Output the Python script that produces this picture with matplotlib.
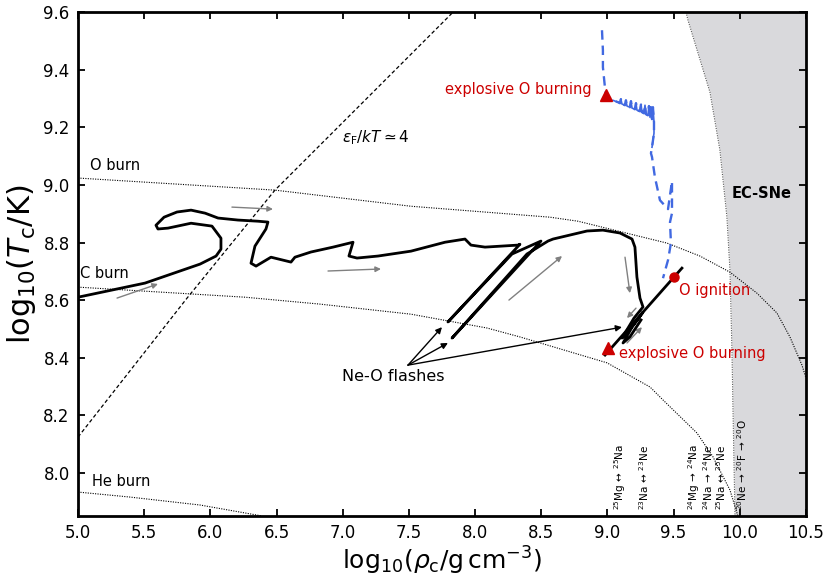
import matplotlib
matplotlib.use("Agg")
import matplotlib.pyplot as plt
import numpy as np

# ---------------- data ----------------
# main evolutionary track (black)
track_rho = [5.000, 5.506, 5.922, 6.043, 6.080, 6.080, 6.012, 5.854, 5.680, 5.604, 5.589, 5.650,
             5.748, 5.854, 5.960, 6.058, 6.209, 6.360, 6.435, 6.420, 6.337, 6.307, 6.345, 6.458,
             6.609, 6.639, 6.760, 6.927, 7.078, 7.047, 7.108, 7.267, 7.516, 7.773, 7.924, 7.969,
             8.075, 8.324, 8.339, 7.795, 8.279, 8.498, 7.826, 8.392, 8.551, 8.589, 8.846, 8.966,
             9.095, 9.186, 9.208, 9.223, 9.246, 9.269, 9.201, 9.110, 9.155, 9.269, 9.186, 9.118,
             9.170, 9.254]
track_T = [8.610, 8.659, 8.725, 8.753, 8.777, 8.815, 8.857, 8.867, 8.850, 8.847, 8.860, 8.888,
           8.906, 8.9125, 8.902, 8.885, 8.878, 8.874, 8.871, 8.847, 8.7875, 8.728, 8.718, 8.749,
           8.732, 8.749, 8.767, 8.784, 8.801, 8.753, 8.746, 8.753, 8.770, 8.801, 8.812, 8.791,
           8.784, 8.791, 8.794, 8.524, 8.760, 8.805, 8.468, 8.760, 8.805, 8.812, 8.840, 8.843,
           8.833, 8.812, 8.784, 8.680, 8.607, 8.576, 8.5375, 8.468, 8.489, 8.558, 8.506, 8.451,
           8.472, 8.531]

# final straight segment (O ignition -> explosive O burning)
final_rho = [8.982, 9.563]
final_T = [8.409, 8.711]

# blue (dashed) track
blue_rho = [8.959, 8.966, 8.966, 8.982, 8.989, 9.042, 9.080, 9.095, 9.102, 9.110, 9.133, 9.140,
            9.148, 9.170, 9.178, 9.186, 9.208, 9.216, 9.223, 9.246, 9.254, 9.261, 9.276, 9.284,
            9.291, 9.306, 9.314, 9.322, 9.329, 9.337, 9.344, 9.352, 9.352, 9.337, 9.329, 9.337,
            9.359, 9.397, 9.458, 9.488, 9.488, 9.473, 9.480, 9.458, 9.420]
blue_T = [9.5375, 9.468, 9.409, 9.336, 9.312, 9.294, 9.2875, 9.284, 9.298, 9.281, 9.277, 9.294,
          9.274, 9.270, 9.291, 9.267, 9.263, 9.284, 9.260, 9.256, 9.281, 9.253, 9.249, 9.277,
          9.246, 9.242, 9.274, 9.235, 9.270, 9.2285, 9.270, 9.218, 9.180, 9.131, 9.110, 9.097,
          9.027, 8.947, 8.916, 9.013, 8.902, 8.871, 8.798, 8.739, 8.676]
blue_solid = (5, 33)

# burning lines
oburn_rho = [5.0, 6.488, 7.516, 8.566, 8.778, 9.450, 9.699, 9.926, 10.130, 10.281, 10.379, 10.470, 10.5]
oburn_T = [9.024, 8.982, 8.926, 8.888, 8.874, 8.798, 8.753, 8.697, 8.624, 8.555, 8.472, 8.374, 8.33]
cburn_rho = [5.0, 6.262, 6.828, 7.516, 8.090, 8.339, 8.997, 9.322, 9.420, 9.677, 9.798, 9.926, 9.986]
cburn_T = [8.645, 8.610, 8.586, 8.551, 8.503, 8.472, 8.382, 8.298, 8.253, 8.138, 8.055, 7.940, 7.85]
heburn_rho = [5.0, 5.385, 5.922, 6.39]
heburn_T = [7.933, 7.916, 7.888, 7.85]

# degeneracy line eF/kT ~ 4
fermi_rho = [5.0, 5.824, 6.488, 7.161, 7.833]
fermi_T = [8.124, 8.607, 8.982, 9.291, 9.6]

# EC-SNe region boundary
ec_rho = [9.594, 9.609, 9.775, 9.850, 9.903, 9.926, 9.941, 9.949, 9.964]
ec_T = [9.6, 9.572, 9.322, 9.121, 8.888, 8.704, 8.426, 8.218, 7.85]

# markers
tri_rho = [8.989, 9.004]
tri_T = [9.312, 8.433]
ign_rho = [9.503]
ign_T = [8.680]

# gray direction arrows: (start_rho, start_T, end_rho, end_T)
gray_arrows = [(5.295, 8.607, 5.604, 8.656),
               (6.163, 8.923, 6.473, 8.916),
               (6.889, 8.701, 7.289, 8.708),
               (8.256, 8.600, 8.657, 8.753),
               (9.133, 8.749, 9.170, 8.624),
               (9.216, 8.572, 9.148, 8.5375),
               (9.148, 8.451, 9.261, 8.506)]

# Ne-O flash annotation
flash_origin = (7.493, 8.374)
flash_targets = [(7.750, 8.506), (7.795, 8.451), (9.110, 8.506)]

# weak-rate labels
rate_labels = [r"$^{25}$Mg$\,\leftrightarrow\,^{25}$Na",
               r"$^{23}$Na$\,\leftrightarrow\,^{23}$Ne",
               r"$^{24}$Mg$\,\rightarrow\,^{24}$Na",
               r"$^{24}$Na$\,\rightarrow\,^{24}$Ne",
               r"$^{25}$Na$\,\leftrightarrow\,^{25}$Ne",
               r"$^{20}$Ne$\,\rightarrow\,^{20}$F$\,\rightarrow\,^{20}$O"]
rate_rho = [9.095, 9.276, 9.652, 9.760, 9.858, 10.014]

xticks = [5.0, 5.5, 6.0, 6.5, 7.0, 7.5, 8.0, 8.5, 9.0, 9.5, 10.0, 10.5]
yticks = [8.0, 8.2, 8.4, 8.6, 8.8, 9.0, 9.2, 9.4, 9.6]

# ---------------- plot ----------------
red = '#cc0000'
blue = '#4169e1'

fig = plt.figure(figsize=(8.30, 5.83), dpi=100)
ax = fig.add_axes([0.094, 0.115, 0.877, 0.864])

ax.fill_betweenx(ec_T, ec_rho, 10.5, color='#d9d9dc', zorder=0, lw=0)
ax.plot(ec_rho, ec_T, color='0.35', lw=0.8, ls=(0, (1, 1.2)), zorder=1)

for r, t in [(oburn_rho, oburn_T), (cburn_rho, cburn_T), (heburn_rho, heburn_T)]:
    ax.plot(r, t, color='black', lw=0.8, ls=(0, (1, 1.2)), zorder=2)

ax.plot(fermi_rho, fermi_T, color='black', lw=0.9, ls=(0, (3, 2)), zorder=2)

ax.plot(track_rho, track_T, color='black', lw=2.0, solid_joinstyle='round', zorder=4)
ax.plot(final_rho, final_T, color='black', lw=2.0, zorder=4)

ax.plot(blue_rho, blue_T, color=blue, lw=1.7, ls=(0, (4, 2.5)), zorder=4)
s0, s1 = blue_solid
ax.plot(blue_rho[s0:s1 + 1], blue_T[s0:s1 + 1], color=blue, lw=1.2, zorder=4)

ax.plot(tri_rho, tri_T, ls='none', marker='^', ms=8, color=red, zorder=5)
ax.plot(ign_rho, ign_T, ls='none', marker='o', ms=6.5, color=red, zorder=5)

for x0, y0, x1, y1 in gray_arrows:
    ax.annotate('', xy=(x1, y1), xytext=(x0, y0),
                arrowprops=dict(arrowstyle='-|>', color='0.5', lw=1.0,
                                mutation_scale=8, shrinkA=0, shrinkB=0), zorder=3)

for tx, ty in flash_targets:
    ax.annotate('', xy=(tx, ty), xytext=flash_origin,
                arrowprops=dict(arrowstyle='-|>', color='black', lw=1.0,
                                mutation_scale=9, shrinkA=0, shrinkB=0), zorder=5)
ax.text(7.38, 8.336, 'Ne-O flashes', fontsize=11.5, ha='center', va='center')

ax.text(5.09, 9.069, 'O burn', fontsize=10.5, ha='left', va='center')
ax.text(5.015, 8.694, 'C burn', fontsize=10.5, ha='left', va='center')
ax.text(5.106, 7.968, 'He burn', fontsize=10.5, ha='left', va='center')
ax.text(6.995, 9.166, r'$\epsilon_{\rm F}/kT \simeq 4$', fontsize=11, ha='left', va='center')
ax.text(7.773, 9.333, 'explosive O burning', fontsize=10.5, color=red, ha='left', va='center')
ax.text(9.087, 8.416, 'explosive O burning', fontsize=10.5, color=red, ha='left', va='center')
ax.text(9.541, 8.635, 'O ignition', fontsize=10.5, color=red, ha='left', va='center')
ax.text(10.168, 8.972, 'EC-SNe', fontsize=10.5, fontweight='bold', ha='center', va='center')

for lab, r in zip(rate_labels, rate_rho):
    ax.text(r, 7.871, lab, fontsize=7.5, rotation=90, ha='center', va='bottom')

ax.set_xlim(5.0, 10.5)
ax.set_ylim(7.85, 9.6)
ax.set_xticks(xticks)
ax.set_yticks(yticks)
ax.set_xticklabels([f'{v:.1f}' for v in xticks])
ax.set_yticklabels([f'{v:.1f}' for v in yticks])
ax.tick_params(direction='in', top=True, right=True, length=5, width=1.3, labelsize=12, pad=6)
for sp in ax.spines.values():
    sp.set_linewidth(2.0)

ax.set_xlabel(r'log$_{10}$($\rho_{\rm c}$/g$\,$cm$^{-3}$)', fontsize=18, labelpad=2)
ax.set_ylabel(r'log$_{10}$($T_{\rm c}$/K)', fontsize=22, labelpad=4)

fig.savefig('out.png', dpi=100)
